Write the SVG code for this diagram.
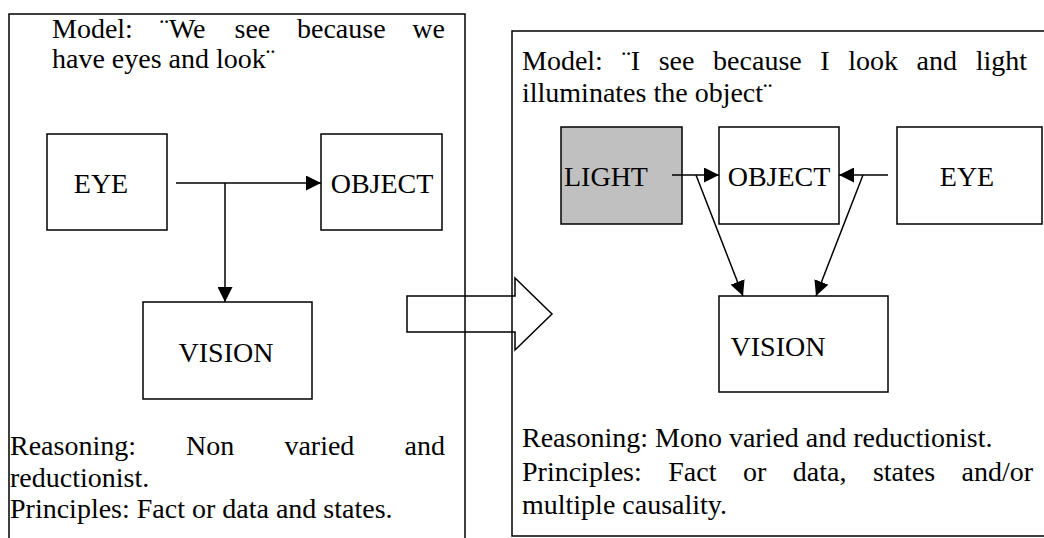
<svg xmlns="http://www.w3.org/2000/svg" width="1044" height="538" viewBox="0 0 1044 538">
<style>
.frame{fill:none;stroke:#000;stroke-width:1.5}
.box{fill:#fff;stroke:#000;stroke-width:1.5}
.grey{fill:#c0c0c0;stroke:#000;stroke-width:1.5}
text{font-family:'Liberation Serif','DejaVu Serif',serif;font-size:28px;fill:#000}
.lbl{text-anchor:middle}
.c{fill:none;stroke:#000;stroke-width:1.5}
</style>
<defs>
<marker id="ah" markerUnits="userSpaceOnUse" markerWidth="15" markerHeight="15" refX="15" refY="7.5" orient="auto">
<path d="M0,0 L15,7.5 L0,15 z" fill="#000"/>
</marker>
</defs>
<rect width="1044" height="538" fill="#fff"/>
<g id="left-panel">
<rect class="frame" x="9" y="14" width="456" height="600"/>
<text y="38"><tspan x="52">Model:</tspan><tspan x="159.6">¨We</tspan><tspan x="234.5">see</tspan><tspan x="297">because</tspan><tspan x="445" text-anchor="end">we</tspan></text>
<text x="52" y="68">have eyes and look¨</text>
<text y="455"><tspan x="10">Reasoning:</tspan><tspan x="186.1">Non</tspan><tspan x="284.4">varied</tspan><tspan x="445" text-anchor="end">and</tspan></text>
<text x="10" y="487">reductionist.</text>
<text x="10" y="518">Principles: Fact or data and states.</text>
</g>
<g id="right-panel">
<rect class="frame" x="512" y="31" width="600" height="505"/>
<text y="70"><tspan x="522">Model:</tspan><tspan x="621.5">¨I</tspan><tspan x="658.7">see</tspan><tspan x="713.1">because</tspan><tspan x="820.3">I</tspan><tspan x="848.2">look</tspan><tspan x="916.6">and</tspan><tspan x="1027" text-anchor="end">light</tspan></text>
<text x="522" y="102">illuminates the object¨</text>
<text x="522" y="447">Reasoning: Mono varied and reductionist.</text>
<text y="481"><tspan x="522">Principles:</tspan><tspan x="668.3">Fact</tspan><tspan x="743">or</tspan><tspan x="792.8">data,</tspan><tspan x="872.9">states</tspan><tspan x="1033" text-anchor="end">and/or</tspan></text>
<text x="522" y="514">multiple causality.</text>
</g>
<g id="l-eye"><rect class="box" x="47" y="134" width="120" height="96"/><text class="lbl" x="101" y="193">EYE</text></g>
<g id="l-object"><rect class="box" x="321" y="134" width="121" height="96"/><text class="lbl" x="382" y="193">OBJECT</text></g>
<g id="l-vision"><rect class="box" x="143" y="302" width="169" height="97"/><text class="lbl" x="226" y="362">VISION</text></g>
<g id="r-light"><rect class="grey" x="561" y="127" width="121" height="97"/><text x="564" y="186">LIGHT</text></g>
<g id="r-object"><rect class="box" x="719" y="127" width="120" height="97"/><text class="lbl" x="779" y="186">OBJECT</text></g>
<g id="r-eye"><rect class="box" x="897" y="127" width="145" height="97"/><text class="lbl" x="967" y="186">EYE</text></g>
<g id="r-vision"><rect class="box" x="719" y="296" width="169" height="96"/><text class="lbl" x="778" y="356">VISION</text></g>
<g id="connectors">
<line class="c" x1="176" y1="183" x2="321" y2="183" marker-end="url(#ah)"/>
<line class="c" x1="225" y1="183" x2="225" y2="302" marker-end="url(#ah)"/>
<line class="c" x1="672" y1="175" x2="719" y2="175" marker-end="url(#ah)"/>
<line class="c" x1="888" y1="175" x2="839" y2="175" marker-end="url(#ah)"/>
<line class="c" x1="696" y1="175" x2="743" y2="296" marker-end="url(#ah)"/>
<line class="c" x1="863" y1="175" x2="816" y2="296" marker-end="url(#ah)"/>
<polygon class="c" points="407,296 515,296 515,278 552,314 515,350 515,332 407,332"/>
</g>
</svg>
